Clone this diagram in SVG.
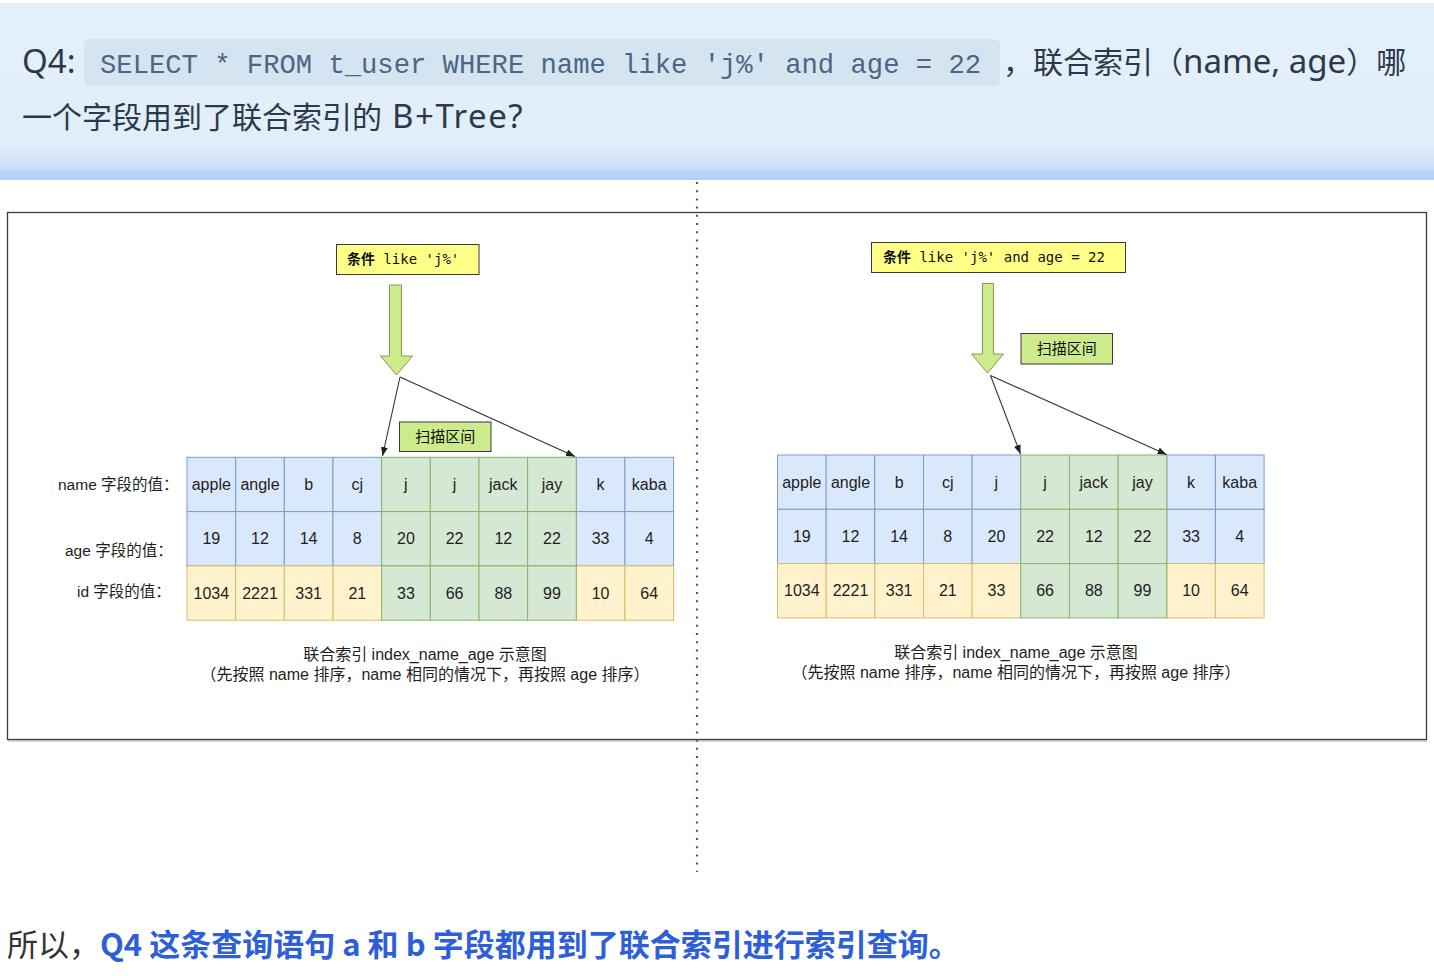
<svg xmlns="http://www.w3.org/2000/svg" width="1434" height="976" viewBox="0 0 1434 976">
<defs>
<linearGradient id="hdr" x1="0" y1="0" x2="0" y2="1">
<stop offset="0" stop-color="#e4f0fb"/>
<stop offset="0.8" stop-color="#e1eefa"/>
<stop offset="0.9" stop-color="#d3e5f9"/>
<stop offset="0.95" stop-color="#c3daf8"/>
<stop offset="0.955" stop-color="#b8d2f8"/>
<stop offset="1" stop-color="#b5d0f7"/>
</linearGradient>
<marker id="ah" markerUnits="userSpaceOnUse" markerWidth="10" markerHeight="8" refX="9" refY="3.5" orient="auto">
<path d="M0,0 L9,3.5 L0,7 Z" fill="#222"/>
</marker>
</defs>
<style>
.sans{font-family:"Noto Sans","Noto Sans CJK SC",sans-serif}
.lat{font-size:33px}
.cb{fill:#dae8fc;stroke:#7d9ccc;stroke-width:1}
.cg{fill:#d5e8d4;stroke:#86b46b;stroke-width:1}
.cy{fill:#fff2cc;stroke:#d9bc66;stroke-width:1}
.t{font-family:"Liberation Sans","Noto Sans CJK SC",sans-serif;font-size:16px;fill:#1e1e1e;text-anchor:middle}
.lab{font-family:"Liberation Sans","Noto Sans CJK SC",sans-serif;font-size:15.5px;fill:#1e1e1e}
.cap{font-family:"Liberation Sans","Noto Sans CJK SC",sans-serif;font-size:16px;fill:#1e1e1e;text-anchor:middle}
.cond{fill:#ffff88;stroke:#36393d;stroke-width:1}
.scan{fill:#cdeb8b;stroke:#36393d;stroke-width:1}
.mono{font-family:"DejaVu Sans Mono","Noto Sans CJK SC",monospace;font-size:14px;fill:#111}
.scant{font-family:"Noto Sans CJK SC",sans-serif;font-size:15px;fill:#111;text-anchor:middle}
.blk{fill:#cdeb8b;stroke:#7f9f52;stroke-width:1}
.conn{fill:none;stroke:#333;stroke-width:1.1;marker-end:url(#ah)}
</style>

<g id="header">
<rect x="0" y="0" width="1434" height="180" fill="url(#hdr)"/>
<rect x="0" y="0" width="1434" height="3" fill="#ffffff"/>
<rect x="84" y="39" width="916" height="47" rx="6" fill="#d4e5f1"/>
<text x="22" y="73" class="sans lat" fill="#2b3a4a">Q4:</text>
<text x="100" y="73" font-family="Liberation Mono, DejaVu Sans Mono, monospace" font-size="27.2" fill="#4a6786">SELECT * FROM t_user WHERE name like 'j%' and age = 22</text>
<text x="1003" y="73" class="sans" font-size="30" fill="#2b3a4a">，联合索引（<tspan class="lat">name, age</tspan>）哪</text>
<text x="22" y="128" class="sans" font-size="30" fill="#2b3a4a">一个字段用到了联合索引的<tspan class="lat" letter-spacing="1.5"> B+Tree?</tspan></text>
</g>

<g id="frame">
<rect x="7.5" y="212.5" width="1419" height="527" fill="#ffffff" stroke="#3c3c3c" stroke-width="1.3"/>
<line x1="8" y1="741" x2="1427" y2="741" stroke="#a8a8a8" stroke-width="1"/>
</g>

<g id="divider">
<line x1="697" y1="182" x2="697" y2="872" stroke="#555" stroke-width="2.2" stroke-dasharray="2 6.2"/>
</g>

<!-- LEFT -->
<g id="cond-left">
<rect class="cond" x="336.5" y="244.5" width="142.5" height="30"/>
<text class="mono" x="347" y="264"><tspan font-weight="bold">条件</tspan> like 'j%'</text>
</g>
<g id="arrow-left">
<path class="blk" d="M389.5,285 H401.5 V356 H412.5 L396.5,375 L380.5,356 H389.5 Z"/>
</g>
<g id="scan-left">
<rect class="scan" x="399.5" y="422" width="91.5" height="29.5"/>
<text class="scant" x="445.3" y="442">扫描区间</text>
</g>
<g id="labels-left">
<text class="lab" x="58" y="490">name 字段的值：</text>
<text class="lab" x="65" y="556">age 字段的值：</text>
<text class="lab" x="77" y="597">id 字段的值：</text>
</g>
<g id="table-left">
<rect class="cb" x="187" y="457.3" width="48.7" height="54.3"/>
<rect class="cb" x="235.7" y="457.3" width="48.6" height="54.3"/>
<rect class="cb" x="284.3" y="457.3" width="48.7" height="54.3"/>
<rect class="cb" x="333" y="457.3" width="48.6" height="54.3"/>
<rect class="cb" x="576.3" y="457.3" width="48.6" height="54.3"/>
<rect class="cb" x="624.9" y="457.3" width="48.7" height="54.3"/>
<rect class="cb" x="187" y="511.6" width="48.7" height="54.3"/>
<rect class="cb" x="235.7" y="511.6" width="48.6" height="54.3"/>
<rect class="cb" x="284.3" y="511.6" width="48.7" height="54.3"/>
<rect class="cb" x="333" y="511.6" width="48.6" height="54.3"/>
<rect class="cb" x="576.3" y="511.6" width="48.6" height="54.3"/>
<rect class="cb" x="624.9" y="511.6" width="48.7" height="54.3"/>
<rect class="cy" x="187" y="565.9" width="48.7" height="54.3"/>
<rect class="cy" x="235.7" y="565.9" width="48.6" height="54.3"/>
<rect class="cy" x="284.3" y="565.9" width="48.7" height="54.3"/>
<rect class="cy" x="333" y="565.9" width="48.6" height="54.3"/>
<rect class="cy" x="576.3" y="565.9" width="48.6" height="54.3"/>
<rect class="cy" x="624.9" y="565.9" width="48.7" height="54.3"/>
<rect class="cg" x="381.6" y="457.3" width="48.7" height="54.3"/>
<rect class="cg" x="430.3" y="457.3" width="48.7" height="54.3"/>
<rect class="cg" x="479" y="457.3" width="48.6" height="54.3"/>
<rect class="cg" x="527.6" y="457.3" width="48.7" height="54.3"/>
<rect class="cg" x="381.6" y="511.6" width="48.7" height="54.3"/>
<rect class="cg" x="430.3" y="511.6" width="48.7" height="54.3"/>
<rect class="cg" x="479" y="511.6" width="48.6" height="54.3"/>
<rect class="cg" x="527.6" y="511.6" width="48.7" height="54.3"/>
<rect class="cg" x="381.6" y="565.9" width="48.7" height="54.3"/>
<rect class="cg" x="430.3" y="565.9" width="48.7" height="54.3"/>
<rect class="cg" x="479" y="565.9" width="48.6" height="54.3"/>
<rect class="cg" x="527.6" y="565.9" width="48.7" height="54.3"/>
<text class="t" x="211.3" y="490">apple</text>
<text class="t" x="260" y="490">angle</text>
<text class="t" x="308.6" y="490">b</text>
<text class="t" x="357.3" y="490">cj</text>
<text class="t" x="405.9" y="490">j</text>
<text class="t" x="454.6" y="490">j</text>
<text class="t" x="503.3" y="490">jack</text>
<text class="t" x="551.9" y="490">jay</text>
<text class="t" x="600.6" y="490">k</text>
<text class="t" x="649.2" y="490">kaba</text>
<text class="t" x="211.3" y="544.3">19</text>
<text class="t" x="260" y="544.3">12</text>
<text class="t" x="308.6" y="544.3">14</text>
<text class="t" x="357.3" y="544.3">8</text>
<text class="t" x="405.9" y="544.3">20</text>
<text class="t" x="454.6" y="544.3">22</text>
<text class="t" x="503.3" y="544.3">12</text>
<text class="t" x="551.9" y="544.3">22</text>
<text class="t" x="600.6" y="544.3">33</text>
<text class="t" x="649.2" y="544.3">4</text>
<text class="t" x="211.3" y="598.6">1034</text>
<text class="t" x="260" y="598.6">2221</text>
<text class="t" x="308.6" y="598.6">331</text>
<text class="t" x="357.3" y="598.6">21</text>
<text class="t" x="405.9" y="598.6">33</text>
<text class="t" x="454.6" y="598.6">66</text>
<text class="t" x="503.3" y="598.6">88</text>
<text class="t" x="551.9" y="598.6">99</text>
<text class="t" x="600.6" y="598.6">10</text>
<text class="t" x="649.2" y="598.6">64</text>
</g>
<g id="caption-left">
<text class="cap" x="425" y="660">联合索引 index_name_age 示意图</text>
<text class="cap" x="425" y="680">（先按照 name 排序，name 相同的情况下，再按照 age 排序）</text>
</g>

<!-- RIGHT -->
<g id="cond-right">
<rect class="cond" x="871.5" y="242.5" width="254" height="30"/>
<text class="mono" x="883" y="262"><tspan font-weight="bold">条件</tspan> like 'j%' and age = 22</text>
</g>
<g id="arrow-right">
<path class="blk" d="M982.5,283.5 H993.5 V354 H1003.5 L987.5,373 L971.5,354 H982.5 Z"/>
</g>
<g id="scan-right">
<rect class="scan" x="1021" y="333.5" width="91.5" height="30.5"/>
<text class="scant" x="1066.8" y="354">扫描区间</text>
</g>
<g id="table-right">
<rect class="cb" x="777.5" y="455" width="48.7" height="54.3"/>
<rect class="cb" x="826.2" y="455" width="48.6" height="54.3"/>
<rect class="cb" x="874.8" y="455" width="48.7" height="54.3"/>
<rect class="cb" x="923.5" y="455" width="48.6" height="54.3"/>
<rect class="cb" x="972.1" y="455" width="48.7" height="54.3"/>
<rect class="cb" x="1166.8" y="455" width="48.6" height="54.3"/>
<rect class="cb" x="1215.4" y="455" width="48.7" height="54.3"/>
<rect class="cb" x="777.5" y="509.3" width="48.7" height="54.3"/>
<rect class="cb" x="826.2" y="509.3" width="48.6" height="54.3"/>
<rect class="cb" x="874.8" y="509.3" width="48.7" height="54.3"/>
<rect class="cb" x="923.5" y="509.3" width="48.6" height="54.3"/>
<rect class="cb" x="972.1" y="509.3" width="48.7" height="54.3"/>
<rect class="cb" x="1166.8" y="509.3" width="48.6" height="54.3"/>
<rect class="cb" x="1215.4" y="509.3" width="48.7" height="54.3"/>
<rect class="cy" x="777.5" y="563.6" width="48.7" height="54.3"/>
<rect class="cy" x="826.2" y="563.6" width="48.6" height="54.3"/>
<rect class="cy" x="874.8" y="563.6" width="48.7" height="54.3"/>
<rect class="cy" x="923.5" y="563.6" width="48.6" height="54.3"/>
<rect class="cy" x="972.1" y="563.6" width="48.7" height="54.3"/>
<rect class="cy" x="1166.8" y="563.6" width="48.6" height="54.3"/>
<rect class="cy" x="1215.4" y="563.6" width="48.7" height="54.3"/>
<rect class="cg" x="1020.8" y="455" width="48.7" height="54.3"/>
<rect class="cg" x="1069.5" y="455" width="48.6" height="54.3"/>
<rect class="cg" x="1118.1" y="455" width="48.7" height="54.3"/>
<rect class="cg" x="1020.8" y="509.3" width="48.7" height="54.3"/>
<rect class="cg" x="1069.5" y="509.3" width="48.6" height="54.3"/>
<rect class="cg" x="1118.1" y="509.3" width="48.7" height="54.3"/>
<rect class="cg" x="1020.8" y="563.6" width="48.7" height="54.3"/>
<rect class="cg" x="1069.5" y="563.6" width="48.6" height="54.3"/>
<rect class="cg" x="1118.1" y="563.6" width="48.7" height="54.3"/>
<text class="t" x="801.8" y="487.7">apple</text>
<text class="t" x="850.5" y="487.7">angle</text>
<text class="t" x="899.1" y="487.7">b</text>
<text class="t" x="947.8" y="487.7">cj</text>
<text class="t" x="996.4" y="487.7">j</text>
<text class="t" x="1045.1" y="487.7">j</text>
<text class="t" x="1093.8" y="487.7">jack</text>
<text class="t" x="1142.4" y="487.7">jay</text>
<text class="t" x="1191.1" y="487.7">k</text>
<text class="t" x="1239.7" y="487.7">kaba</text>
<text class="t" x="801.8" y="542">19</text>
<text class="t" x="850.5" y="542">12</text>
<text class="t" x="899.1" y="542">14</text>
<text class="t" x="947.8" y="542">8</text>
<text class="t" x="996.4" y="542">20</text>
<text class="t" x="1045.1" y="542">22</text>
<text class="t" x="1093.8" y="542">12</text>
<text class="t" x="1142.4" y="542">22</text>
<text class="t" x="1191.1" y="542">33</text>
<text class="t" x="1239.7" y="542">4</text>
<text class="t" x="801.8" y="596.3">1034</text>
<text class="t" x="850.5" y="596.3">2221</text>
<text class="t" x="899.1" y="596.3">331</text>
<text class="t" x="947.8" y="596.3">21</text>
<text class="t" x="996.4" y="596.3">33</text>
<text class="t" x="1045.1" y="596.3">66</text>
<text class="t" x="1093.8" y="596.3">88</text>
<text class="t" x="1142.4" y="596.3">99</text>
<text class="t" x="1191.1" y="596.3">10</text>
<text class="t" x="1239.7" y="596.3">64</text>
</g>
<g id="caption-right">
<text class="cap" x="1016" y="658">联合索引 index_name_age 示意图</text>
<text class="cap" x="1016" y="678">（先按照 name 排序，name 相同的情况下，再按照 age 排序）</text>
</g>

<g id="connectors">
<path class="conn" d="M400,377 L382.5,456"/>
<path class="conn" d="M400,377 L575,456.5"/>
<path class="conn" d="M990.5,375.5 L1020.5,454"/>
<path class="conn" d="M990.5,375.5 L1166.5,454.5"/>
</g>

<g id="conclusion">
<text x="7" y="956" class="sans" font-size="31"><tspan fill="#333">所以，</tspan><tspan fill="#2d5fd8" font-weight="bold" font-family="Noto Sans CJK SC, sans-serif">Q4 这条查询语句 a 和 b 字段都用到了联合索引进行索引查询。</tspan></text>
</g>
</svg>
